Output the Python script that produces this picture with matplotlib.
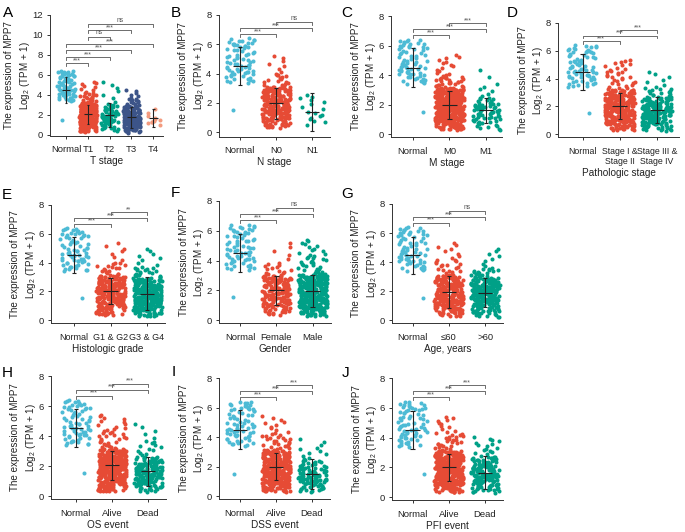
import numpy as np
import matplotlib
matplotlib.use("Agg")
import matplotlib.pyplot as plt

plt.rcParams["font.family"] = ["Liberation Sans", "DejaVu Sans"]
plt.rcParams["mathtext.fontset"] = "custom"
plt.rcParams["mathtext.rm"] = "Liberation Sans"
plt.rcParams["mathtext.it"] = "Liberation Sans:italic"

# ---------------------------------------------------------------------------
# data
# ---------------------------------------------------------------------------

# normal samples, shared by every panel
NORMAL = [1.52,
          3.38, 3.45, 3.52, 3.58, 3.62, 3.66, 3.70, 3.75, 3.80, 3.85,
          3.90, 3.95, 4.00, 4.04, 4.08, 4.12, 4.16, 4.20, 4.24, 4.28,
          4.32, 4.36, 4.40, 4.44, 4.48, 4.52, 4.56, 4.60, 4.64, 4.68,
          4.72, 4.77, 4.82, 4.87, 4.92, 4.98, 5.04, 5.10, 5.16, 5.22,
          5.28, 5.34, 5.40, 5.46, 5.52, 5.58, 5.63, 5.68, 5.73, 5.78,
          5.83, 5.88, 5.92, 5.96, 6.00, 6.04, 6.08, 6.12, 6.16, 6.20,
          6.24, 6.28, 6.32, 6.36, 6.40, 3.50, 4.10, 4.50, 4.90, 5.30, 5.90]

# tumour groups: sample count + values at the quantiles in QUANT
QUANT = [0, 0.03, 0.1, 0.25, 0.5, 0.75, 0.9, 0.97, 1.0]

T_CATS = ["Normal", "T1", "T2", "T3", "T4"]
T_N = [278, 71, 179, 11]
T_KNOTS = [[0.30, 0.45, 0.80, 1.30, 1.95, 2.65, 3.15, 4.20, 5.40],
           [0.30, 0.50, 0.80, 1.30, 1.85, 2.50, 3.10, 4.80, 5.45],
           [0.20, 0.40, 0.70, 1.10, 1.60, 2.30, 2.90, 3.70, 4.60],
           [0.90, 1.00, 1.10, 1.25, 1.45, 1.80, 2.30, 2.70, 4.35]]
T_MID = [4.50, 2.05, 1.97, 1.75, 1.65]
T_LO = [3.20, 1.10, 0.80, 0.70, 0.75]
T_HI = [5.80, 3.00, 3.15, 2.80, 2.55]
T_SIG = [(0, 1, 7.15, "***"), (0, 2, 7.8, "***"), (0, 3, 8.45, "***"),
         (0, 4, 9.1, "***"), (1, 2, 9.8, "ns"), (1, 3, 10.45, "***"),
         (1, 4, 11.1, "ns")]

N_CATS = ["Normal", "N0", "N1"]
N_N = [241, 17]
N_KNOTS = [[0.30, 0.45, 0.80, 1.30, 1.90, 2.60, 3.10, 4.00, 5.30],
           [0.35, 0.50, 0.70, 0.95, 1.40, 2.10, 2.40, 2.50, 3.30]]
N_MID = [4.50, 1.97, 1.35]
N_LO = [3.20, 0.92, 0.05]
N_HI = [5.80, 3.02, 2.67]
N_SIG = ["***", "***", "ns"]

M_CATS = ["Normal", "M0", "M1"]
M_N = [428, 79]
M_KNOTS = [[0.30, 0.45, 0.80, 1.30, 1.90, 2.60, 3.10, 4.00, 5.40],
           [0.20, 0.40, 0.70, 1.10, 1.60, 2.00, 2.50, 3.40, 4.60]]
M_MID = [4.50, 2.00, 1.60]
M_LO = [3.20, 1.02, 0.75]
M_HI = [5.80, 2.93, 2.45]
M_SIG = ["***", "***", "***"]

P_CATS = ["Normal", "Stage I &\nStage II", "Stage III &\nStage IV"]
P_N = [331, 205]
P_KNOTS = [[0.30, 0.45, 0.80, 1.30, 1.95, 2.65, 3.20, 4.60, 5.40],
           [0.25, 0.40, 0.70, 1.10, 1.65, 2.20, 2.70, 3.40, 4.60]]
P_MID = [4.50, 2.05, 1.72]
P_LO = [3.20, 1.07, 0.78]
P_HI = [5.80, 3.00, 2.68]
P_SIG = ["***", "***", "***"]

G_CATS = ["Normal", "G1 & G2", "G3 & G4"]
G_N = [250, 281]
G_KNOTS = [[0.35, 0.50, 0.85, 1.35, 1.95, 2.60, 3.10, 4.00, 5.45],
           [0.25, 0.40, 0.70, 1.10, 1.70, 2.40, 2.90, 3.70, 5.00]]
G_MID = [4.53, 2.03, 1.85]
G_LO = [3.25, 1.10, 0.72]
G_HI = [5.80, 2.95, 2.97]
G_SIG = ["***", "***", "**"]

SEX_CATS = ["Normal", "Female", "Male"]
SEX_N = [186, 353]
SEX_KNOTS = [[0.35, 0.50, 0.85, 1.30, 1.95, 2.60, 3.00, 3.80, 5.30],
             [0.25, 0.45, 0.75, 1.20, 1.85, 2.55, 3.10, 4.40, 5.45]]
SEX_MID = [4.50, 2.00, 1.93]
SEX_LO = [3.20, 1.00, 0.85]
SEX_HI = [5.80, 2.98, 3.02]
SEX_SIG = ["***", "***", "ns"]

AGE_CATS = ["Normal", "≤60", ">60"]
AGE_N = [269, 270]
AGE_KNOTS = [[0.25, 0.45, 0.75, 1.20, 1.85, 2.60, 3.10, 4.20, 5.40],
             [0.20, 0.45, 0.80, 1.25, 1.85, 2.45, 2.90, 3.60, 5.00]]
AGE_MID = [4.47, 1.95, 1.90]
AGE_LO = [3.20, 0.85, 0.90]
AGE_HI = [5.75, 3.05, 2.90]
AGE_SIG = ["***", "***", "ns"]

EVENT_CATS = ["Normal", "Alive", "Dead"]
OS_N = [362, 177]
OS_KNOTS = [[0.30, 0.45, 0.80, 1.30, 1.95, 2.60, 3.15, 4.40, 5.45],
            [0.25, 0.45, 0.70, 1.10, 1.55, 2.15, 2.60, 3.70, 4.95]]
OS_MID = [4.52, 2.05, 1.65]
OS_LO = [3.25, 1.10, 0.67]
OS_HI = [5.80, 3.00, 2.63]
OS_SIG = ["***", "***", "***"]

DSS_N = [366, 109]
DSS_KNOTS = [[0.30, 0.45, 0.80, 1.30, 1.90, 2.60, 3.10, 4.20, 5.45],
             [0.25, 0.40, 0.60, 0.95, 1.35, 1.90, 2.45, 3.30, 4.00]]
DSS_MID = [4.50, 2.00, 1.48]
DSS_LO = [3.20, 1.07, 0.48]
DSS_HI = [5.80, 2.93, 2.48]
DSS_SIG = ["***", "***", "***"]

PFI_N = [370, 166]
PFI_KNOTS = [[0.30, 0.45, 0.80, 1.30, 1.90, 2.60, 3.10, 4.30, 5.45],
             [0.25, 0.45, 0.70, 1.10, 1.55, 2.20, 2.70, 3.60, 4.05]]
PFI_MID = [4.50, 2.00, 1.63]
PFI_LO = [3.20, 1.08, 0.55]
PFI_HI = [5.80, 2.92, 2.73]
PFI_SIG = ["***", "***", "***"]

# ---------------------------------------------------------------------------
# styling / layout
# ---------------------------------------------------------------------------
BLUE, RED, GREEN, NAVY, SALMON = "#4DBBD5", "#E64B35", "#00A087", "#3C5488", "#F39B7F"
W, H = 685, 532
INK = "#222222"
GREY = "#555555"

fig = plt.figure(figsize=(W / 100, H / 100), dpi=100)


def px_axes(left, top, right, bottom):
    return fig.add_axes([left / W, 1 - bottom / H, (right - left) / W, (bottom - top) / H])


def spread(n, knots):
    q = (np.arange(n) + 0.5) / n
    return np.interp(q, QUANT, knots)


def jitter(n, start):
    # deterministic hash jitter in [-1, 1] (horizontal position only)
    k = np.arange(n) + start
    return (np.sin(k * 12.9898 + 78.233) * 43758.5453) % 1.0 * 2 - 1


def panel(letter, box, xl, ylim, cats, colors, groups, mid, lo, hi, sigs, xlabel,
          yticks, drop, letter_xy, tsize=6.8, ylab_off=26.5):
    left, top, spacing, xr = box
    ax = px_axes(left, top, left + (xr - xl[0]) * spacing, xl[1])
    for i, (vals, c) in enumerate(zip(groups, colors)):
        vals = np.asarray(vals)
        x = i + 0.4 * jitter(len(vals), 101 * i + 13 * letter_xy[0])
        ax.scatter(x, vals, s=8.5, c=c, linewidths=0, zorder=2)
        ax.vlines(i, lo[i], hi[i], color=INK, lw=0.8, zorder=3)
        ax.hlines(mid[i], i - 0.2, i + 0.2, color=INK, lw=0.8, zorder=3)
        ax.hlines([lo[i], hi[i]], i - 0.06, i + 0.06, color=INK, lw=0.8, zorder=3)
    for a, b, y, lab in sigs:
        ax.plot([a, a, b, b], [y - drop, y, y, y - drop], color=GREY, lw=0.6, zorder=1)
        off = drop * 0.15 if lab == "ns" else -drop * 0.35
        ax.text((a + b) / 2, y + off, lab, ha="center", va="bottom",
                fontsize=4.8 if lab == "ns" else 5, color=GREY)
    ax.set_xlim(xl[0], xr)
    ax.set_ylim(*ylim)
    ax.set_xticks(range(len(cats)))
    ax.set_xticklabels(cats)
    ax.set_yticks(yticks)
    for s in ("top", "right"):
        ax.spines[s].set_visible(False)
    for s in ("left", "bottom"):
        ax.spines[s].set_color("#333333")
        ax.spines[s].set_linewidth(0.7)
    ax.tick_params(length=2.5, width=0.7, color="#333333", labelsize=6.8,
                   labelcolor=INK, pad=2.5)
    ax.tick_params(axis="x", labelsize=tsize, pad=4.5)
    ax.set_xlabel(xlabel, fontsize=7.2, color=INK, labelpad=1.5)
    pos = ax.get_position()
    fig.text(pos.x0 - ylab_off / W, pos.y0 + pos.height / 2,
             "The expression of MPP7\nLog$_2$ (TPM + 1)", rotation=90,
             ha="center", va="center", fontsize=7.1, color=INK, linespacing=1.35)
    fig.text(letter_xy[0] / W, 1 - letter_xy[1] / H, letter, fontsize=11,
             ha="left", va="center", color="black")
    return ax


def three(sig):
    return [(0, 1, 6.7, sig[0]), (0, 2, 7.1, sig[1]), (1, 2, 7.5, sig[2])]


def tumour(ns, knots):
    return [NORMAL] + [spread(n, k) for n, k in zip(ns, knots)]


Y8 = [0, 2, 4, 6, 8]
C3 = [BLUE, RED, GREEN]

# box = (left px, top px, px per category, right xlim); xl = (left xlim, bottom px)
panel("A", (49.5, 15, 21.8, 4.45), (-0.76, 135.5), (-0.08, 12), T_CATS,
      [BLUE, RED, GREEN, NAVY, SALMON], tumour(T_N, T_KNOTS), T_MID, T_LO, T_HI,
      T_SIG, "T stage", [0, 2, 4, 6, 8, 10, 12], 0.3, (3, 13), ylab_off=31.5)
panel("B", (218.5, 15, 36.2, 2.5), (-0.59, 136.5), (-0.3, 8), N_CATS, C3,
      tumour(N_N, N_KNOTS), N_MID, N_LO, N_HI, three(N_SIG), "N stage", Y8, 0.2, (171, 13))
panel("C", (391, 16, 36.5, 2.45), (-0.6, 137), (-0.2, 8), M_CATS, C3,
      tumour(M_N, M_KNOTS), M_MID, M_LO, M_HI, three(M_SIG), "M stage", Y8, 0.2, (341, 13))
panel("D", (558, 23, 37.2, 2.6), (-0.66, 137), (-0.2, 8), P_CATS, C3,
      tumour(P_N, P_KNOTS), P_MID, P_LO, P_HI, three(P_SIG), "Pathologic stage", Y8, 0.2,
      (507, 13), tsize=6.3)
panel("E", (50.7, 205, 36.5, 2.5), (-0.64, 323), (-0.2, 8), G_CATS, C3,
      tumour(G_N, G_KNOTS), G_MID, G_LO, G_HI, three(G_SIG), "Histologic grade", Y8, 0.2,
      (2, 195), tsize=6.5)
panel("F", (219, 201, 36.3, 2.5), (-0.58, 323), (-0.2, 8), SEX_CATS, C3,
      tumour(SEX_N, SEX_KNOTS), SEX_MID, SEX_LO, SEX_HI, three(SEX_SIG), "Gender", Y8, 0.2, (171, 193))
panel("G", (391.7, 204, 36.2, 2.5), (-0.58, 323), (-0.2, 8), AGE_CATS, C3,
      tumour(AGE_N, AGE_KNOTS), AGE_MID, AGE_LO, AGE_HI, three(AGE_SIG), "Age, years", Y8, 0.2, (341, 194))
panel("H", (50.7, 376, 36.0, 2.5), (-0.7, 499), (-0.2, 8), EVENT_CATS, C3,
      tumour(OS_N, OS_KNOTS), OS_MID, OS_LO, OS_HI, three(OS_SIG), "OS event", Y8, 0.2, (2, 373))
panel("I", (219, 378, 36.0, 2.5), (-0.58, 499), (-0.2, 8), EVENT_CATS, C3,
      tumour(DSS_N, DSS_KNOTS), DSS_MID, DSS_LO, DSS_HI, three(DSS_SIG), "DSS event", Y8, 0.2, (172, 372))
panel("J", (392, 378, 36.2, 2.5), (-0.57, 500), (-0.2, 8), EVENT_CATS, C3,
      tumour(PFI_N, PFI_KNOTS), PFI_MID, PFI_LO, PFI_HI, three(PFI_SIG), "PFI event", Y8, 0.2, (342, 373))

fig.savefig("out.png", dpi=100)
